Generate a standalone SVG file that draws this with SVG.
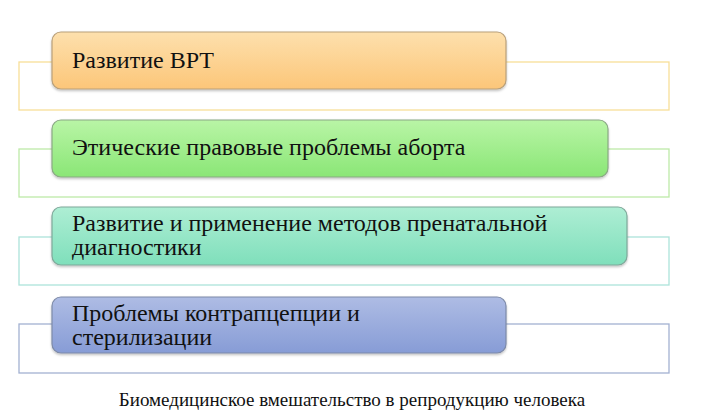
<svg xmlns="http://www.w3.org/2000/svg" width="702" height="420" viewBox="0 0 702 420">
<style>
.t{font-family:'Liberation Serif','Times New Roman',serif;font-size:24px;fill:#111}
.cap{font-family:'Liberation Serif','Times New Roman',serif;font-size:19px;fill:#111}
.ol{fill:none;stroke-width:1.3}
.bx{stroke-width:1.2}
</style>
<defs>
<linearGradient id="g1" x1="0" y1="0" x2="0" y2="1"><stop offset="0" stop-color="#fde0ad"/><stop offset="1" stop-color="#fcc679"/></linearGradient>
<linearGradient id="g2" x1="0" y1="0" x2="0" y2="1"><stop offset="0" stop-color="#b9f5a6"/><stop offset="1" stop-color="#8ae676"/></linearGradient>
<linearGradient id="g3" x1="0" y1="0" x2="0" y2="1"><stop offset="0" stop-color="#aeeed4"/><stop offset="1" stop-color="#7fdfbb"/></linearGradient>
<linearGradient id="g4" x1="0" y1="0" x2="0" y2="1"><stop offset="0" stop-color="#aebce4"/><stop offset="1" stop-color="#879cd6"/></linearGradient>
<filter id="sh" x="-5%" y="-10%" width="110%" height="130%"><feDropShadow dx="0" dy="1.5" stdDeviation="1.2" flood-color="#000" flood-opacity="0.25"/></filter>
</defs>
<g id="connectors">
<rect class="ol" x="19" y="62" width="650" height="48" stroke="#f7df98"/>
<rect class="ol" x="19" y="149" width="650" height="48" stroke="#bdeaa8"/>
<rect class="ol" x="19" y="237" width="650" height="48" stroke="#ade3da"/>
<rect class="ol" x="19" y="324" width="650" height="49" stroke="#a3b1d2"/>
</g>
<g id="node1">
<rect class="bx" x="52" y="32" width="454" height="57" rx="9" fill="url(#g1)" stroke="#b9a07a" filter="url(#sh)"/>
<text class="t" x="72" y="68">Развитие ВРТ</text>
</g>
<g id="node2">
<rect class="bx" x="52" y="120" width="556" height="57" rx="9" fill="url(#g2)" stroke="#8aa884" filter="url(#sh)"/>
<text class="t" x="72" y="155">Этические правовые проблемы аборта</text>
</g>
<g id="node3">
<rect class="bx" x="52" y="207" width="575" height="58" rx="9" fill="url(#g3)" stroke="#7fa89a" filter="url(#sh)"/>
<text class="t" x="72" y="231">Развитие и применение методов пренатальной</text>
<text class="t" x="72" y="255">диагностики</text>
</g>
<g id="node4">
<rect class="bx" x="52" y="297" width="454" height="56" rx="9" fill="url(#g4)" stroke="#7d8aa8" filter="url(#sh)"/>
<text class="t" x="72" y="321">Проблемы контрапцепции и</text>
<text class="t" x="72" y="345">стерилизации</text>
</g>
<g id="caption">
<text class="cap" x="352" y="406" text-anchor="middle">Биомедицинское вмешательство в репродукцию человека</text>
</g>
</svg>
